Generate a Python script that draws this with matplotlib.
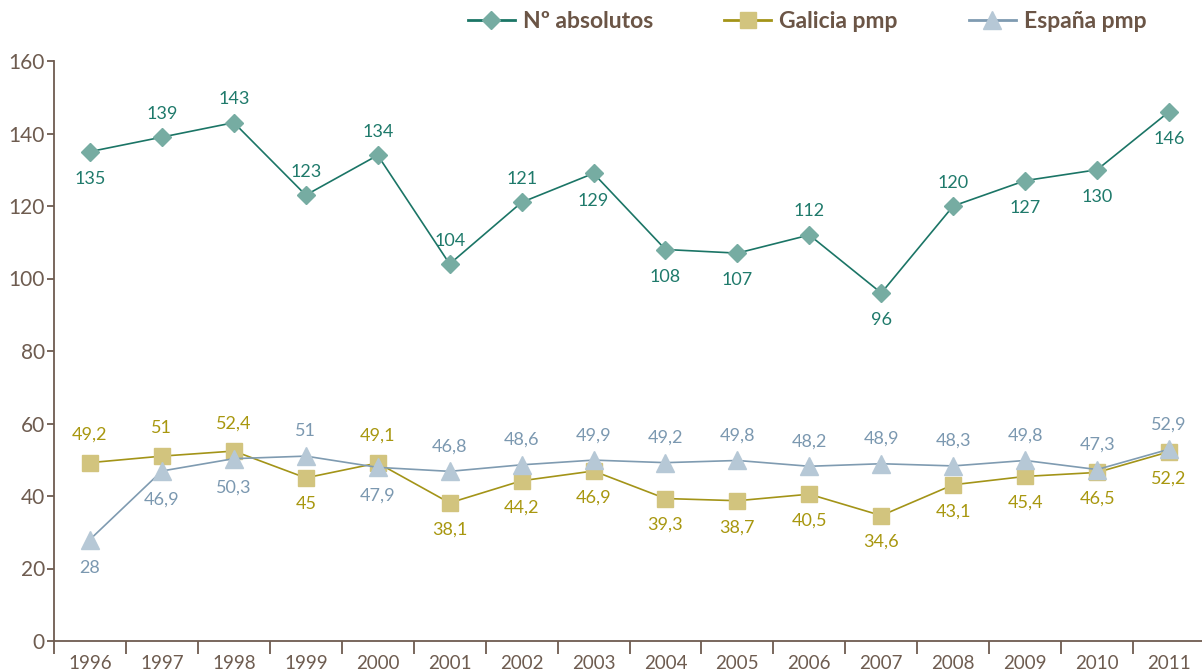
import matplotlib
matplotlib.use("Agg")
import matplotlib.pyplot as plt
from matplotlib.lines import Line2D

years = [str(y) for y in range(1996, 2012)]
absolutos = [135, 139, 143, 123, 134, 104, 121, 129, 108, 107, 112, 96, 120, 127, 130, 146]
galicia = [49.2, 51, 52.4, 45, 49.1, 38.1, 44.2, 46.9, 39.3, 38.7, 40.5, 34.6, 43.1, 45.4, 46.5, 52.2]
espana = [28, 46.9, 50.3, 51, 47.9, 46.8, 48.6, 49.9, 49.2, 49.8, 48.2, 48.9, 48.3, 49.8, 47.3, 52.9]

# label placement: +1 above the marker, -1 below
abs_pos = [-1, 1, 1, 1, 1, 1, 1, -1, -1, -1, 1, -1, 1, -1, -1, -1]
gal_pos = [1, 1, 1, -1, 1, -1, -1, -1, -1, -1, -1, -1, -1, -1, -1, -1]
esp_pos = [-1, -1, -1, 1, -1, 1, 1, 1, 1, 1, 1, 1, 1, 1, 1, 1]

plt.rcParams['font.family'] = ['Lato', 'DejaVu Sans']

AXIS = '#6e5c50'
# values, label side, name, marker, size, line colour, marker colour, text colour, offsets (above, below)
series = [
    (absolutos, abs_pos, 'Nº absolutos', 'D', 9.5, '#1b7566', '#76aca2', '#1f7a6b', (18, 18.5)),
    (galicia, gal_pos, 'Galicia pmp', 's', 12, '#a39418', '#d2c47e', '#a8970f', (21, 18)),
    (espana, esp_pos, 'España pmp', '^', 13, '#7f9bb1', '#b6c8d6', '#7b98b0', (19, 19.5)),
]

fig = plt.figure(figsize=(12.02, 6.72), dpi=100)
ax = fig.add_axes([54 / 1202, 31 / 672, 1151 / 1202, 580 / 672])
x = list(range(len(years)))

for vals, pos, name, mk, ms, lc, mc, tc, (up, down) in series:
    ax.plot(x, vals, color=lc, lw=1.2, marker=mk, markersize=ms,
            markerfacecolor=mc, markeredgecolor=mc, zorder=3, clip_on=False)
    for xi, v, p in zip(x, vals, pos):
        txt = (f"{v:g}").replace('.', ',')
        ax.annotate(txt, (xi, v), xytext=(0, up if p > 0 else -down), textcoords='offset points',
                    ha='center', va='center_baseline',
                    fontsize=13, color=tc, zorder=4)

ax.set_xlim(-0.5, 15.5)
ax.set_ylim(0, 160)
ax.set_yticks(range(0, 161, 20))
ax.set_xticks(x)
ax.set_xticklabels(years)
ax.set_xticks([i - 0.5 for i in range(len(years) + 1)], minor=True)
ax.tick_params(axis='x', which='major', length=0, pad=10, labelsize=13.5, labelcolor=AXIS)
ax.tick_params(axis='x', which='minor', length=9, width=1.3, color=AXIS, direction='out')
ax.tick_params(axis='y', length=5, width=1.3, color=AXIS, labelsize=15, labelcolor=AXIS, pad=1.5)
for s in ('top', 'right'):
    ax.spines[s].set_visible(False)
for s in ('left', 'bottom'):
    ax.spines[s].set_color(AXIS)
    ax.spines[s].set_linewidth(1.3)

handles = [Line2D([], [], color=s[5], lw=2, marker=s[3], markersize=s[4],
                  markerfacecolor=s[6], markeredgecolor=s[6])
           for s in series]
leg = fig.legend(handles, [s[2] for s in series], loc='center', bbox_to_anchor=(807 / 1202, 1 - 22 / 672),
                 ncol=3, frameon=False, handlelength=2.05, columnspacing=3.1, handletextpad=0.35,
                 prop={'weight': 'bold', 'size': 16.5})
for t in leg.get_texts():
    t.set_color('#6b5546')

fig.savefig('out.png', dpi=100)
